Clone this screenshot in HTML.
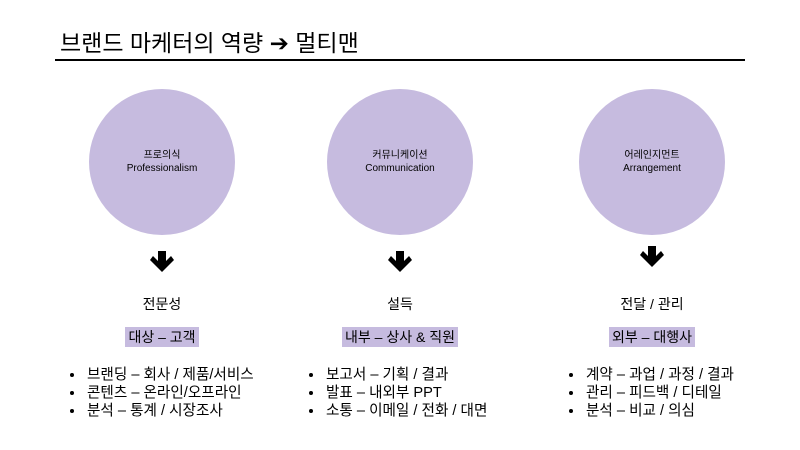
<!DOCTYPE html>
<html><head><meta charset="utf-8"><style>
body{margin:0;width:800px;height:450px;background:#fff;position:relative;overflow:hidden;font-family:"Liberation Sans","Noto Sans CJK KR",sans-serif;color:#000}
.a{position:absolute}
.t{left:60px;top:24px;font-size:23px}
.line{left:55px;top:59px;width:690px;height:2px;background:#000}
.c{width:146px;height:146px;border-radius:50%;background:#c6bbdf;top:89px;text-align:center;font-size:10px;line-height:13px;display:flex;align-items:center;justify-content:center}
.lab{font-size:14px;width:200px;text-align:center}
.hl{font-size:14px;background:#c6bbdf;padding:2px 3px;line-height:18px}
ul{position:absolute;margin:0;padding:0 0 0 22px;font-size:14.6px;line-height:18px}
li{padding-left:2px}
</style></head><body>
<div class="a t">브랜드 마케터의 역량 ➔ 멀티맨</div>
<div class="a line"></div>
<div class="a c" style="left:89px">프로의식<br>Professionalism</div>
<div class="a c" style="left:327px">커뮤니케이션<br>Communication</div>
<div class="a c" style="left:579px">어레인지먼트<br>Arrangement</div>
<svg class="a" style="left:0;top:0" width="800" height="450">
<g fill="#000">
<path d="M158 251h8v10l5-5 3 4-12 12-12-12 3-4 5 5z"/>
<path d="M396 251h8v10l5-5 3 4-12 12-12-12 3-4 5 5z"/>
<path d="M648 246h8v10l5-5 3 4-12 12-12-12 3-4 5 5z"/>
</g></svg>
<div class="a lab" style="left:62px;top:294px">전문성</div>
<div class="a lab" style="left:300px;top:294px">설득</div>
<div class="a lab" style="left:552px;top:294px">전달 / 관리</div>
<div class="a lab" style="left:62px;top:328px"><span class="hl">대상 – 고객</span></div>
<div class="a lab" style="left:300px;top:328px"><span class="hl">내부 – 상사 &amp; 직원</span></div>
<div class="a lab" style="left:552px;top:328px"><span class="hl">외부 – 대행사</span></div>
<ul style="left:63px;top:366px"><li>브랜딩 – 회사 / 제품/서비스</li><li>콘텐츠 – 온라인/오프라인</li><li>분석 – 통계 / 시장조사</li></ul>
<ul style="left:302px;top:366px"><li>보고서 – 기획 / 결과</li><li>발표 – 내외부 PPT</li><li>소통 – 이메일 / 전화 / 대면</li></ul>
<ul style="left:562px;top:366px"><li>계약 – 과업 / 과정 / 결과</li><li>관리 – 피드백 / 디테일</li><li>분석 – 비교 / 의심</li></ul>
</body></html>
